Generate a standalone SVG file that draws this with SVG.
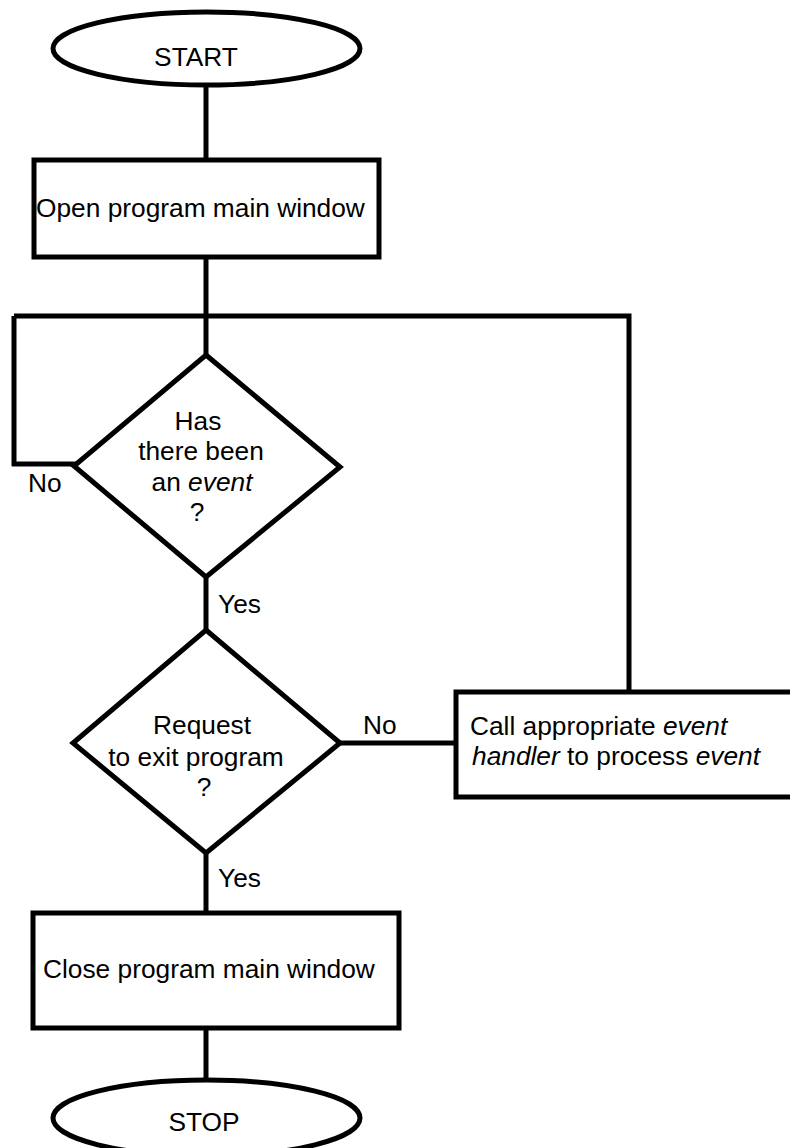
<svg xmlns="http://www.w3.org/2000/svg" width="790" height="1148" viewBox="0 0 790 1148">
<style>
.s{fill:#fff;stroke:#000;stroke-width:5}
.l{fill:none;stroke:#000;stroke-width:5}
text{font-family:"Liberation Sans",Arial,sans-serif;font-size:26.3px;fill:#000}
.c{text-anchor:middle}
.i{font-style:italic}
</style>
<rect width="790" height="1148" fill="#fff"/>
<g id="connectors">
<path class="l" d="M206,85 V160"/>
<path class="l" d="M206,257 V355"/>
<path class="l" d="M14,316 H629 V694"/>
<path class="l" d="M14,316 V466 M12,464 H76"/>
<path class="l" d="M206,577 V630"/>
<path class="l" d="M340,743 H456"/>
<path class="l" d="M206,853 V913"/>
<path class="l" d="M206,1028 V1080"/>
<text x="28" y="492">No</text>
<text x="218" y="613">Yes</text>
<text x="363" y="734">No</text>
<text x="218" y="887">Yes</text>
</g>
<g id="start">
<ellipse class="s" cx="206.5" cy="48.5" rx="153.5" ry="36.5"/>
<text x="196" y="66" class="c">START</text>
</g>
<g id="open">
<rect class="s" x="34" y="160" width="345" height="97"/>
<text x="36" y="217">Open program main window</text>
</g>
<g id="event-check">
<polygon class="s" points="206,355 340,467 206,577 74,466"/>
<text x="198" y="430" class="c">Has</text>
<text x="201" y="460" class="c">there been</text>
<text x="202" y="491" class="c">an <tspan class="i">event</tspan></text>
<text x="197" y="521" class="c">?</text>
</g>
<g id="exit-check">
<polygon class="s" points="206,630 340,743 206,853 73,743"/>
<text x="202" y="734" class="c">Request</text>
<text x="196" y="766" class="c">to exit program</text>
<text x="204" y="796" class="c">?</text>
</g>
<g id="handler">
<rect class="s" x="456" y="692" width="360" height="105"/>
<text x="470" y="735">Call appropriate <tspan class="i">event</tspan></text>
<text x="472" y="765"><tspan class="i">handler</tspan> to process <tspan class="i">event</tspan></text>
</g>
<g id="close">
<rect class="s" x="33" y="913" width="366" height="115"/>
<text x="43" y="978">Close program main window</text>
</g>
<g id="stop">
<ellipse class="s" cx="206.5" cy="1118" rx="153.5" ry="38"/>
<text x="204" y="1131" class="c">STOP</text>
</g>
</svg>
